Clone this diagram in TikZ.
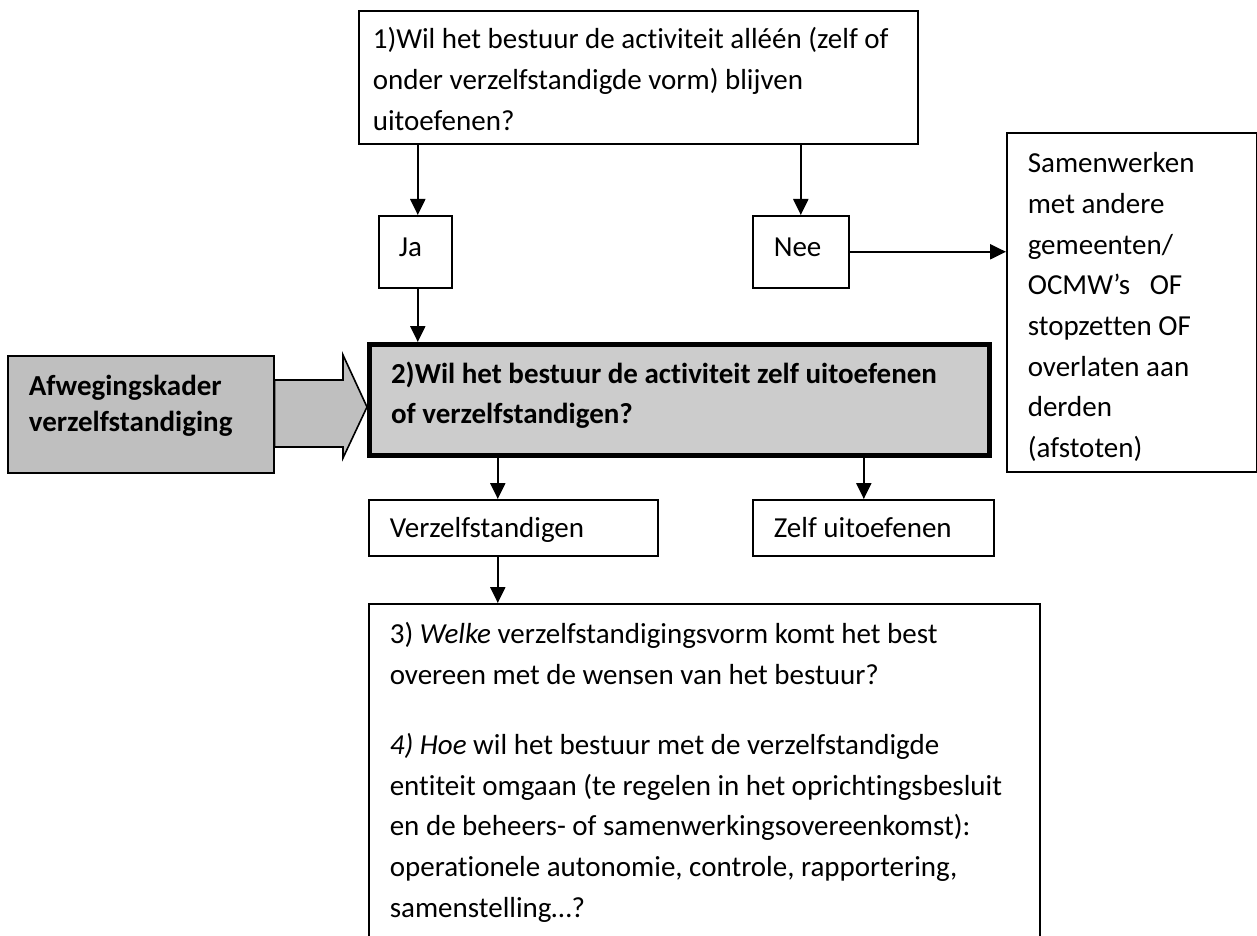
\documentclass[tikz,border=0pt]{standalone}
\usepackage{fontspec}
\setmainfont{Carlito}[Ligatures=NoCommon]
\usepackage{tikz}
\usetikzlibrary{arrows.meta}
\tikzstyle{box} = [draw, line width=0.8pt, anchor=north west, inner ysep=0pt, inner xsep=10.5pt, align=flush left, font=\fontsize{14.5pt}{20.35pt}\selectfont]
\tikzstyle{mainbox} = [box, line width=2.5pt, fill=black!20, font=\bfseries\fontsize{14.5pt}{20.35pt}\selectfont]
\tikzstyle{kaderbox} = [box, fill=black!25, font=\bfseries\fontsize{14.5pt}{17.7pt}\selectfont]
\tikzstyle{arr} = [-{Triangle[length=8pt,width=7.5pt]}, line width=1.1pt]
\tikzstyle{blockarr} = [draw, line width=0.8pt, fill=black!25]

\begin{document}
\begin{tikzpicture}[x=0.5pt, y=-0.5pt]
\useasboundingbox (0,0) rectangle (1257,936);
\node[box, inner xsep=7pt, text width=265.5pt, minimum height=66.5pt, text height=19pt, text depth=47.5pt] (q1) at (358,10)
    {1)Wil het bestuur de activiteit alléén (zelf of\\ onder verzelfstandigde vorm) blijven\\ uitoefenen?};
\node[box, inner xsep=10pt, text width=16.5pt, minimum height=36pt, text height=20.5pt, text depth=15.5pt] (ja) at (378,215) {Ja};
\node[box, text width=27pt, minimum height=36pt, text height=20.5pt, text depth=15.5pt] (nee) at (752,215) {Nee};
\node[box, text width=104pt, minimum height=169.5pt, text height=20pt, text depth=149.5pt] (samen) at (1006,132)
    {Samenwerken\\ met andere\\ gemeenten/\\ OCMW’s\ \ \ OF\\ stopzetten OF\\ overlaten aan\\ derden\\ (afstoten)};
\node[kaderbox, text width=112pt, minimum height=58.5pt, text height=20pt, text depth=38.5pt] (kader) at (7,355)
    {Afwegingskader\\ verzelfstandiging};
\node[mainbox, inner xsep=10.75pt, text width=288.5pt, minimum height=55.5pt, text height=19.25pt, text depth=36.25pt] (q2) at (367,342)
    {2)Wil het bestuur de activiteit zelf uitoefenen\\ of verzelfstandigen?};
\node[box, text width=123.5pt, minimum height=28pt, text height=19pt, text depth=9pt] (verz) at (368,499) {Verzelfstandigen};
\node[box, text width=99.5pt, minimum height=28pt, text height=19pt, text depth=9pt] (zelf) at (752,499) {Zelf uitoefenen};
\node[box, text width=314.5pt, minimum height=200pt, text height=20pt, text depth=180pt] (vraag) at (368,603)
    {3) \textit{Welke} verzelfstandigingsvorm komt het best\\ overeen met de wensen van het bestuur?\\[14.65pt]
     \textit{4) Hoe} wil het bestuur met de verzelfstandigde\\ entiteit omgaan (te regelen in het oprichtingsbesluit\\
     en de beheers- of samenwerkingsovereenkomst):\\ operationele autonomie, controle, rapportering,\\ samenstelling…?};

\draw[arr] ([xshift=1.25pt]ja.north |- q1.south) -- ([xshift=1.25pt]ja.north);
\draw[arr] (nee.north |- q1.south) -- (nee.north);
\draw[arr] ([xshift=1.25pt]ja.south) -- ([xshift=1.25pt]ja.south |- q2.north);
\draw[arr] (nee.east) -- (nee.east -| samen.west);
\draw[arr] ([xshift=-7.75pt]verz.north |- q2.south) -- ([xshift=-7.75pt]verz.north);
\draw[arr] ([xshift=-4.75pt]zelf.north |- q2.south) -- ([xshift=-4.75pt]zelf.north);
\draw[arr] ([xshift=-7.75pt]verz.south) -- ([xshift=-7.75pt]verz.south |- vraag.north);
\draw[blockarr] (kader.east |- 0,380) -- (343,380) -- (343,355) -- (q2.west |- 0,407)
    -- (343,458) -- (343,447) -- (kader.east |- 0,447) -- cycle;
\end{tikzpicture}
\end{document}
